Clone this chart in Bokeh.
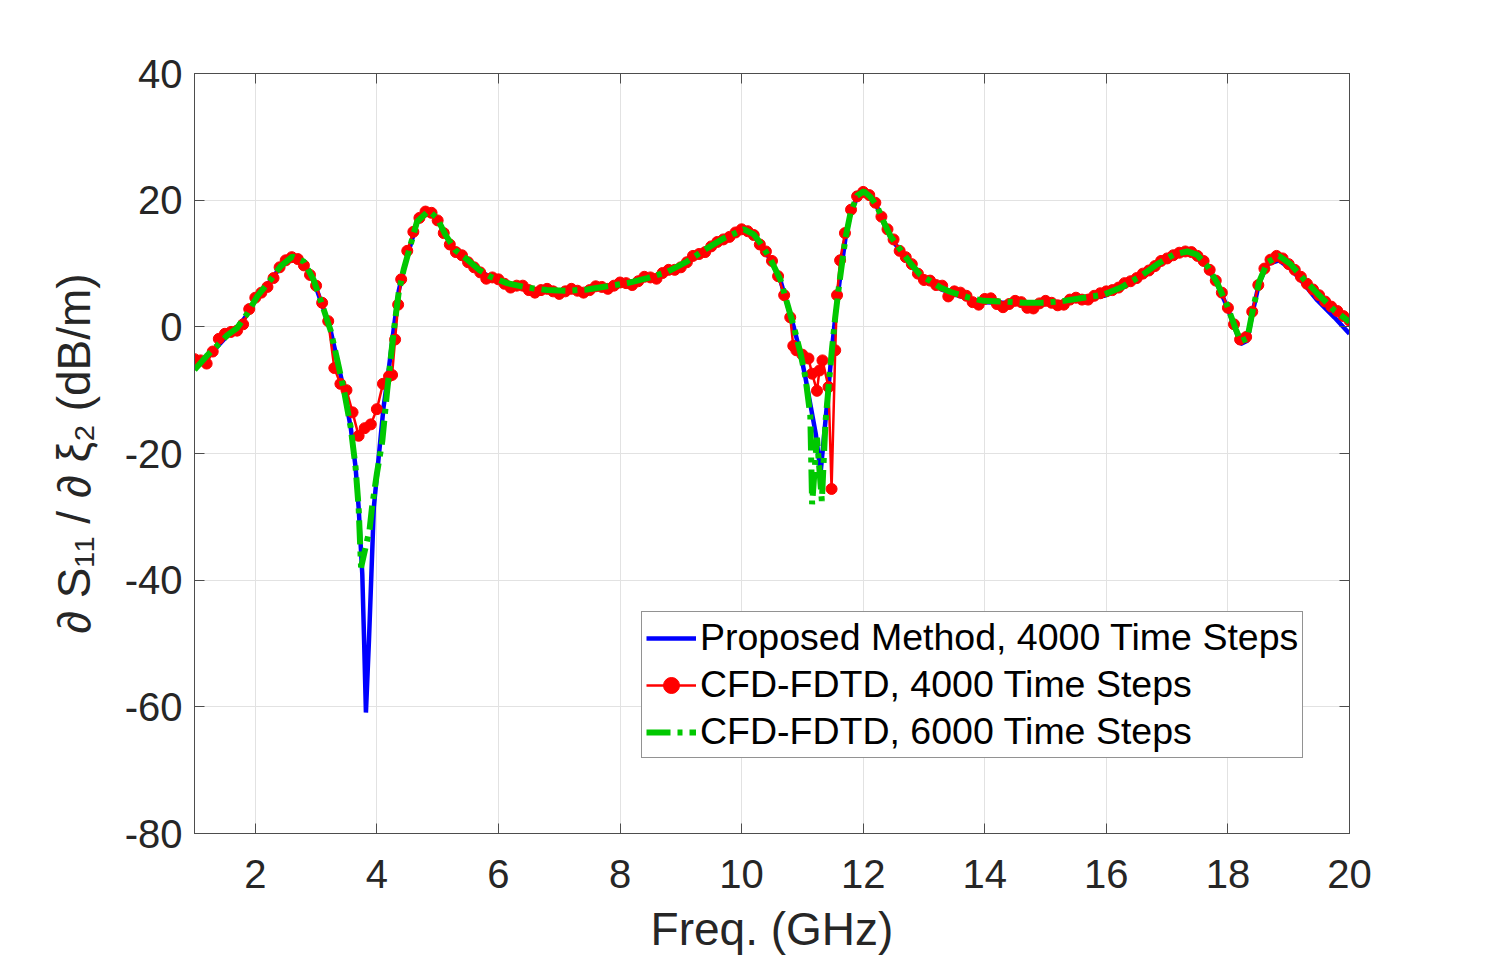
import numpy as np
from bokeh.plotting import figure
from bokeh.models import (Range1d, FixedTicker, LinearAxis, Legend, LegendItem,
                          CustomJSTickFormatter)
from bokeh.embed import file_html
from bokeh.resources import INLINE

# ---- data -------------------------------------------------------------
x_ticks = [2, 4, 6, 8, 10, 12, 14, 16, 18, 20]
y_ticks = [-80, -60, -40, -20, 0, 20, 40]

# Proposed method, 4000 time steps
blue_freq = [1.00, 1.20, 1.37, 1.54, 1.70, 1.87, 2.03, 2.25, 2.41, 2.61,
             2.80, 2.96, 3.13, 3.24, 3.35, 3.46, 3.57, 3.65, 3.70, 3.76,
             3.79, 3.82, 3.87, 3.91, 3.95, 4.03, 4.11, 4.20, 4.28, 4.36,
             4.44, 4.55, 4.66, 4.85, 4.99, 5.13, 5.29, 5.49, 5.68, 5.87,
             6.14, 6.47, 6.80, 7.13, 7.46, 7.79, 8.12, 8.45, 8.78, 9.10,
             9.43, 9.71, 10.04, 10.20, 10.31, 10.48, 10.64, 10.75, 10.86, 10.97,
             11.05, 11.13, 11.22, 11.30, 11.38, 11.43, 11.49, 11.54, 11.60, 11.65,
             11.71, 11.79, 11.90, 12.01, 12.12, 12.23, 12.34, 12.45, 12.61, 12.78,
             12.94, 13.11, 13.27, 13.44, 13.71, 13.98, 14.31, 14.64, 14.97, 15.30,
             15.63, 15.96, 16.24, 16.56, 16.84, 17.11, 17.33, 17.49, 17.66, 17.82,
             17.99, 18.13, 18.21, 18.32, 18.40, 18.51, 18.65, 18.84, 19.03, 19.25,
             19.47, 19.75, 20.00]
blue_val = [-6.6, -4.8, -3.2, -1.4, -0.3, 2.0, 4.7, 7.3, 9.4, 11.0,
            10.2, 7.3, 2.6, -0.6, -5.3, -10.1, -15.9, -22.2, -28.5, -39.0,
            -49.5, -60.9, -49.5, -39.0, -28.5, -20.6, -12.7, -6.4, -0.1, 5.7,
            9.0, 12.8, 16.5, 18.2, 17.1, 14.4, 12.0, 10.5, 8.9, 7.8,
            6.8, 6.1, 5.7, 5.6, 5.8, 6.3, 6.8, 7.6, 8.6, 10.2,
            12.3, 13.9, 15.3, 14.5, 13.1, 10.5, 7.3, 3.6, -0.1, -4.3,
            -8.0, -12.2, -16.9, -23.0, -14.8, -9.5, -3.2, 1.5, 6.3, 9.9,
            14.1, 17.8, 20.5, 21.0, 20.3, 18.9, 16.3, 14.1, 12.0, 9.8,
            8.0, 7.0, 6.0, 5.3, 4.5, 3.9, 3.8, 3.6, 3.6, 3.9,
            4.4, 4.9, 6.0, 7.8, 9.7, 11.1, 11.6, 11.1, 9.4, 6.8,
            3.1, -0.6, -2.7, -2.2, 2.0, 6.8, 9.9, 10.5, 9.2, 6.8,
            4.2, 1.5, -1.1]

# CFD-FDTD, 4000 time steps
red_freq = [1.0, 1.1, 1.2, 1.3, 1.4, 1.5, 1.6, 1.7, 1.8, 1.9,
            2.0, 2.1, 2.2, 2.3, 2.4, 2.5, 2.6, 2.7, 2.8, 2.9,
            3.0, 3.1, 3.2, 3.3, 3.4, 3.5, 3.6, 3.7, 3.8, 3.9,
            4.0, 4.1, 4.2, 4.25, 4.3, 4.35, 4.4, 4.5, 4.6, 4.7,
            4.8, 4.9, 5.0, 5.1, 5.2, 5.3, 5.4, 5.5, 5.6, 5.7,
            5.8, 5.9, 6.0, 6.1, 6.2, 6.3, 6.4, 6.5, 6.6, 6.7,
            6.8, 6.9, 7.0, 7.1, 7.2, 7.3, 7.4, 7.5, 7.6, 7.7,
            7.8, 7.9, 8.0, 8.1, 8.2, 8.3, 8.4, 8.5, 8.6, 8.7,
            8.8, 8.9, 9.0, 9.1, 9.2, 9.3, 9.4, 9.5, 9.6, 9.7,
            9.8, 9.9, 10.0, 10.1, 10.2, 10.3, 10.4, 10.5, 10.6, 10.7,
            10.8, 10.85, 10.9, 11.0, 11.1, 11.16, 11.24, 11.28, 11.33, 11.43,
            11.48, 11.54, 11.57, 11.62, 11.7, 11.8, 11.9, 12.0, 12.1, 12.2,
            12.3, 12.4, 12.5, 12.6, 12.7, 12.8, 12.9, 13.0, 13.1, 13.2,
            13.3, 13.4, 13.5, 13.6, 13.7, 13.8, 13.9, 14.0, 14.1, 14.2,
            14.3, 14.4, 14.5, 14.6, 14.7, 14.8, 14.9, 15.0, 15.1, 15.2,
            15.3, 15.4, 15.5, 15.6, 15.7, 15.8, 15.9, 16.0, 16.1, 16.2,
            16.3, 16.4, 16.5, 16.6, 16.7, 16.8, 16.9, 17.0, 17.1, 17.2,
            17.3, 17.4, 17.5, 17.6, 17.7, 17.8, 17.9, 18.0, 18.1, 18.2,
            18.3, 18.4, 18.5, 18.6, 18.7, 18.8, 18.9, 19.0, 19.1, 19.2,
            19.3, 19.4, 19.5, 19.6, 19.7, 19.8, 19.9, 20.0]
red_val = [-5.1, -5.3, -5.8, -3.9, -1.9, -1.1, -0.8, -0.6, 0.4, 2.8,
           4.6, 5.4, 6.3, 7.7, 9.4, 10.5, 11.0, 10.7, 9.7, 8.2,
           6.5, 3.8, 0.9, -6.5, -9.0, -10.0, -13.5, -17.2, -16.0, -15.4,
           -13.0, -9.0, -7.8, -7.6, -2.0, 3.5, 7.5, 12.0, 15.0, 17.2,
           18.2, 18.0, 16.8, 14.8, 13.0, 11.8, 11.3, 10.2, 9.4, 8.6,
           7.6, 7.8, 7.5, 6.8, 6.2, 6.5, 6.5, 5.8, 5.4, 5.8,
           6.0, 5.6, 5.2, 5.6, 6.0, 5.7, 5.4, 5.8, 6.4, 6.3,
           6.0, 6.5, 7.0, 6.9, 6.6, 7.2, 7.9, 7.8, 7.6, 8.5,
           9.0, 9.0, 9.4, 10.2, 11.2, 11.5, 11.8, 12.7, 13.4, 13.8,
           14.2, 14.9, 15.4, 15.1, 14.5, 13.0, 11.9, 10.4, 8.0, 5.0,
           1.5, -3.0, -3.7, -4.4, -5.0, -7.4, -10.1, -6.9, -5.3, -9.5,
           -25.6, -3.7, 5.0, 10.5, 14.8, 18.5, 20.6, 21.3, 20.8, 19.6,
           17.4, 15.4, 13.8, 12.0, 11.0, 9.9, 8.4, 7.4, 7.3, 6.6,
           6.5, 4.8, 5.6, 5.4, 4.9, 3.9, 3.5, 4.4, 4.5, 3.6,
           3.1, 3.6, 4.1, 3.9, 3.0, 2.9, 3.7, 4.1, 3.8, 3.4,
           3.5, 4.3, 4.6, 4.3, 4.3, 4.9, 5.3, 5.6, 5.8, 6.2,
           6.9, 7.2, 7.7, 8.4, 8.9, 9.6, 10.4, 10.8, 11.3, 11.7,
           11.9, 11.8, 11.2, 10.4, 9.0, 7.3, 5.4, 3.0, 0.4, -2.0,
           -1.6, 2.4, 6.6, 9.2, 10.6, 11.2, 10.8, 9.9, 9.0, 7.9,
           6.8, 5.9, 5.0, 4.0, 3.2, 2.5, 1.7, 1.0]

# CFD-FDTD, 6000 time steps
green_freq = [1.00, 1.20, 1.37, 1.54, 1.70, 1.87, 2.03, 2.25, 2.41, 2.61,
              2.80, 2.96, 3.13, 3.24, 3.35, 3.46, 3.57, 3.65, 3.70,
              3.74, 3.88, 3.92, 4.00, 4.09, 4.17,
              4.28, 4.36, 4.44, 4.55, 4.66, 4.85, 4.99, 5.13, 5.29, 5.49, 5.68, 5.87,
              6.14, 6.47, 6.80, 7.13, 7.46, 7.79, 8.12, 8.45, 8.78, 9.10,
              9.43, 9.71, 10.04, 10.20, 10.31, 10.48, 10.64, 10.75, 10.86, 10.97, 11.05,
              11.13, 11.16, 11.24, 11.32, 11.38, 11.44, 11.49, 11.54, 11.60, 11.65,
              11.71, 11.79, 11.90, 12.01,
              12.12, 12.23, 12.34, 12.45, 12.61, 12.78, 12.94, 13.11, 13.27, 13.44,
              13.71, 13.98, 14.31, 14.64, 14.97, 15.30, 15.63, 15.96, 16.24, 16.56,
              16.84, 17.11, 17.33, 17.49, 17.66, 17.82, 17.99, 18.13, 18.21, 18.32,
              18.40, 18.51, 18.65, 18.84, 19.03, 19.25, 19.47, 19.75, 20.00]
green_val = [-6.8, -4.6, -3.0, -1.3, -0.2, 2.1, 4.8, 7.4, 9.5, 11.1,
             10.3, 7.4, 2.6, -0.6, -5.3, -10.1, -15.9, -22.2, -28.5,
             -38.0, -32.0, -28.5, -23.2, -18.0, -10.0,
             -0.5, 5.5, 9.0, 12.8, 16.6, 18.3, 17.2, 14.5, 12.1, 10.6, 9.0, 7.9,
             6.9, 6.2, 5.8, 5.7, 5.9, 6.4, 6.9, 7.7, 8.7, 10.3,
             12.4, 14.0, 15.4, 14.6, 13.2, 10.6, 7.4, 3.7, 0.0, -4.2, -8.0,
             -14.0, -28.0, -17.5, -27.5, -15.0, -8.5, -3.2, 1.5, 6.3, 9.9,
             14.1, 17.9, 20.7, 21.4,
             20.5, 19.0, 16.5, 14.3, 12.2, 10.0, 8.2, 7.2, 6.2, 5.5,
             4.7, 4.1, 4.0, 3.8, 3.8, 4.1, 4.6, 5.1, 6.2, 8.0,
             9.9, 11.4, 11.9, 11.4, 9.6, 7.0, 3.3, -0.4, -2.3, -1.8,
             2.2, 7.0, 10.2, 11.2, 9.9, 7.5, 5.3, 2.6, 0.8]

# ---- figure -----------------------------------------------------------
FONT = "Liberation Sans"
TXT = "#262626"
AX = "#4d4d4d"

p = figure(width=1492, height=957,
           x_range=Range1d(1, 20), y_range=Range1d(-80, 40),
           output_backend="svg", toolbar_location=None,
           min_border_left=194, min_border_right=143,
           min_border_top=73, min_border_bottom=124,
           background_fill_color="white", border_fill_color="white")
p.outline_line_color = AX
p.outline_line_width = 1

p.xaxis.ticker = FixedTicker(ticks=x_ticks)
p.yaxis.ticker = FixedTicker(ticks=y_ticks)
p.yaxis.major_label_overrides = {t: str(t) for t in y_ticks}

for ax in (p.xaxis[0], p.yaxis[0]):
    ax.major_tick_in = 10
    ax.major_tick_out = 0
    ax.minor_tick_line_color = None
    ax.axis_line_color = AX
    ax.major_tick_line_color = AX
    ax.major_label_text_font = FONT
    ax.major_label_text_font_size = "40px"
    ax.major_label_text_color = TXT
    ax.axis_label_text_font = FONT
    ax.axis_label_text_font_size = "46px"
    ax.axis_label_text_font_style = "normal"
    ax.axis_label_text_color = TXT

p.xaxis.axis_label = "Freq. (GHz)"
p.yaxis.axis_label = "∂ S₁₁ / ∂ ξ₂ (dB/m)"
p.xaxis.major_label_standoff = 26
p.xaxis.axis_label_standoff = 12
p.yaxis.major_label_standoff = 12
p.yaxis.axis_label_standoff = 22

# box: tick marks on the top and right edges as well
blank = CustomJSTickFormatter(code="return ''")
top_ax = LinearAxis(ticker=FixedTicker(ticks=x_ticks), formatter=blank,
                    major_tick_in=10, major_tick_out=0,
                    minor_tick_line_color=None, axis_line_color=AX,
                    major_tick_line_color=AX, major_label_standoff=0)
right_ax = LinearAxis(ticker=FixedTicker(ticks=y_ticks), formatter=blank,
                      major_tick_in=10, major_tick_out=0,
                      minor_tick_line_color=None, axis_line_color=AX,
                      major_tick_line_color=AX, major_label_standoff=0)
p.add_layout(top_ax, "above")
p.add_layout(right_ax, "right")

p.xgrid.grid_line_color = "#e2e2e2"
p.ygrid.grid_line_color = "#e2e2e2"
p.xgrid.grid_line_width = 1
p.ygrid.grid_line_width = 1

# ---- curves -----------------------------------------------------------
r_blue = p.line(blue_freq, blue_val, line_color="#0000ff", line_width=4.5)
r_red_line = p.line(red_freq, red_val, line_color="#ff0000", line_width=2.5)
r_red_pts = p.scatter(red_freq, red_val, size=11, marker="circle",
                      fill_color="#ff0000", line_color="#ff0000")
r_green = p.line(green_freq, green_val, line_color="#00c800", line_width=6,
                 line_dash="24 7 5 7")

legend = Legend(items=[
    LegendItem(label="Proposed Method, 4000 Time Steps", renderers=[r_blue]),
    LegendItem(label="CFD-FDTD, 4000 Time Steps", renderers=[r_red_line, r_red_pts]),
    LegendItem(label="CFD-FDTD, 6000 Time Steps", renderers=[r_green]),
], location=(447, 75))
legend.label_text_font = FONT
legend.label_text_font_size = "37.5px"
legend.label_text_color = "black"
legend.glyph_width = 50
legend.glyph_height = 40
legend.label_height = 40
legend.label_standoff = 4
legend.spacing = 4
legend.padding = 4
legend.margin = 0
legend.border_line_color = TXT
legend.border_line_width = 1
legend.background_fill_color = "white"
legend.background_fill_alpha = 1.0
p.add_layout(legend)

open("out.html", "w").write(file_html(p, INLINE))
